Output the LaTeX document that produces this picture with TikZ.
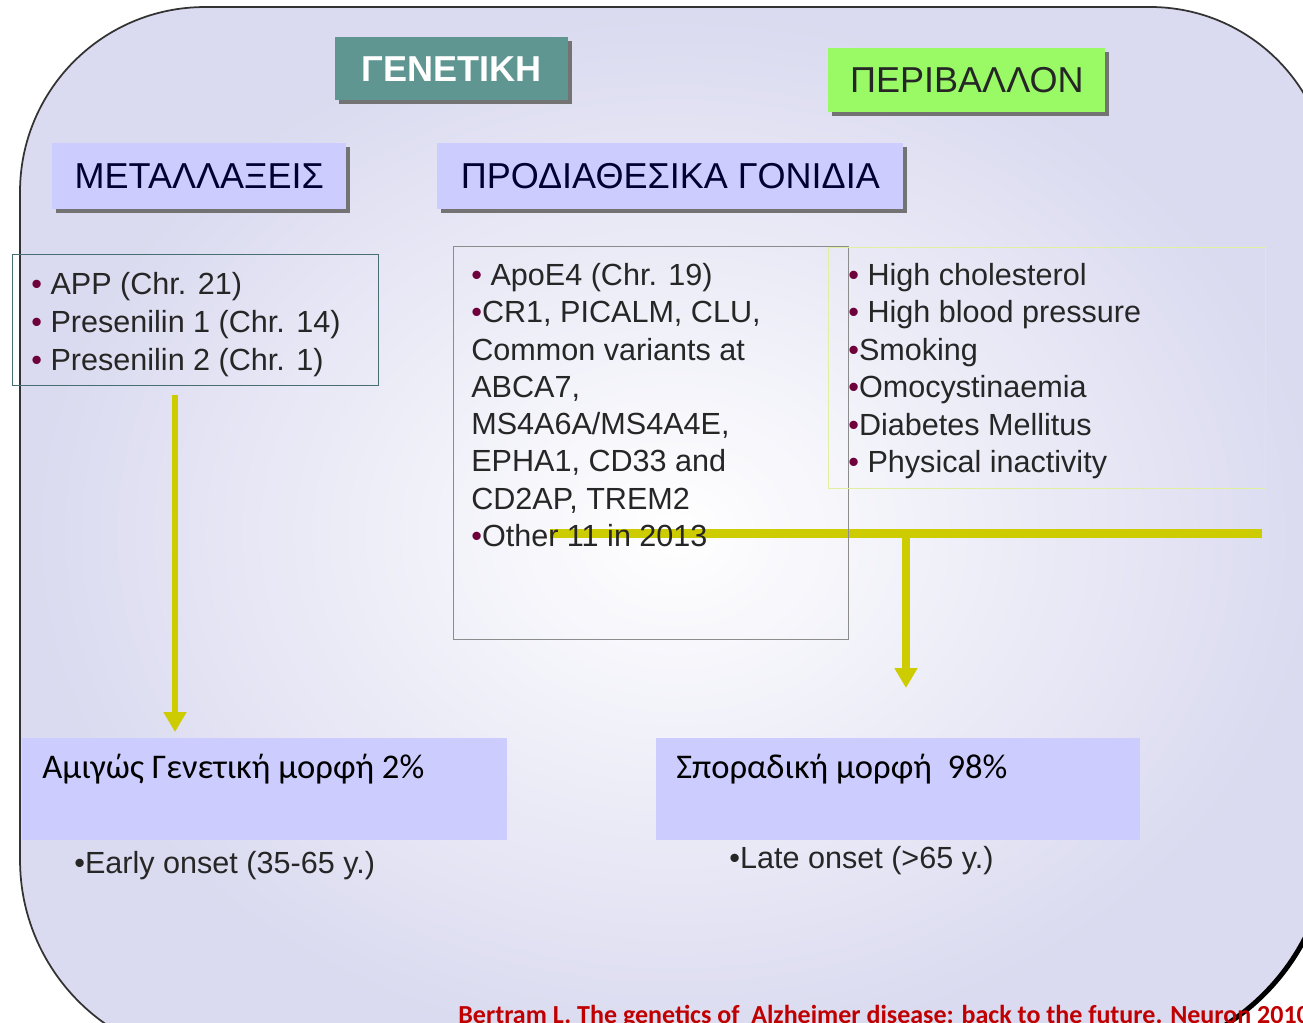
\documentclass[tikz,border=0pt]{standalone}
\usepackage{fontspec}
\setmainfont{Liberation Sans}
\newfontfamily\calibfont{Carlito}
\usetikzlibrary{arrows.meta, calc, shadows}

\definecolor{lavbox}{RGB}{204,204,255}
\definecolor{bgedge}{RGB}{218,218,240}
\definecolor{genteal}{RGB}{95,150,145}
\definecolor{envgreen}{RGB}{153,250,102}
\definecolor{ylw}{RGB}{204,204,0}
\definecolor{bulcol}{RGB}{110,0,60}
\definecolor{txtgray}{RGB}{38,38,38}
\definecolor{citered}{RGB}{192,0,0}
\definecolor{mutframe}{RGB}{70,110,115}
\definecolor{envframe}{RGB}{225,240,160}
\newcommand{\bul}{{\color{bulcol}•}}

\begin{document}
\begin{tikzpicture}[x=0.02cm, y=-0.02cm,
    titlebox/.style={anchor=north west, inner sep=0pt, font=\fontsize{20.5}{24}\selectfont,
      drop shadow={shadow xshift=0.08cm, shadow yshift=-0.08cm, fill=black!55, opacity=1}},
    listframe/.style={draw, anchor=north west, inner sep=0pt, line width=0.025cm},
    listline/.style={anchor=base west, inner sep=0pt, text=txtgray, font=\fontsize{17.4}{21}\selectfont},
    formbox/.style={anchor=north west, fill=lavbox, inner sep=0pt, minimum width=9.7cm, minimum height=2.04cm},
    formtxt/.style={anchor=base west, inner sep=0pt, font=\calibfont\fontsize{19.7}{23}\selectfont},
    yarrow/.style={draw=ylw, line width=0.12cm, -{Triangle[width=0.44cm, length=0.4cm]}}]

    % Fix the slide size
    \path[use as bounding box] (0,0) rectangle (1303,1023);
    \clip (0,0) rectangle (1303,1023);

    % Draw the rounded background
    \shadedraw[inner color=white, outer color=bgedge, draw=black!80, line width=0.035cm]
      (20,192) arc[start angle=180, end angle=90, radius=3.7cm] -- (1150,7)
      arc[start angle=90, end angle=0, radius=3.6cm] -- (1330,835)
      arc[start angle=0, end angle=-90, radius=4.5cm] -- (220,1060)
      arc[start angle=-90, end angle=-180, radius=4cm] -- cycle;
    \draw[line width=0.1cm] (1330,835) arc[start angle=0, end angle=-90, radius=4.5cm];

    % The two forms
    \node[formbox] (purebox) at (22,738) {};
    \node[formbox, minimum width=9.68cm] (sporbox) at (656,738) {};

    % Yellow connectors
    \coordinate (mutdrop) at (175,395);
    \coordinate (barstart) at (550,534);
    \coordinate (barend) at (1262,534);
    \coordinate (envdrop) at (906,534);
    \draw[yarrow, shorten >=0.12cm] (mutdrop) -- (mutdrop |- purebox.north);
    \draw[draw=ylw, line width=0.18cm] (barstart) -- (barend);
    \draw[yarrow, line width=0.15cm, shorten >=1cm] (envdrop) -- (envdrop |- sporbox.north);

    % Frames of the lists
    \node[listframe, draw=mutframe, minimum width=7.32cm, minimum height=2.62cm] (mutlist) at (12,254) {};
    \node[listframe, draw=black!45, minimum width=7.9cm, minimum height=7.86cm] (genelist) at (453,246) {};
    \node[listframe, draw=envframe, minimum width=8.74cm, minimum height=4.82cm] (envlist) at (828,247) {};

    % Headings
    \node[titlebox, fill=genteal, text=white, minimum width=4.66cm, minimum height=1.26cm] (genetics) at (335,37) {\textbf{ΓΕΝΕΤΙΚΗ}};
    \node[titlebox, fill=envgreen, text=black!85, minimum width=5.54cm, minimum height=1.28cm] (environment) at (828,48) {ΠΕΡΙΒΑΛΛΟΝ};
    \node[titlebox, fill=lavbox, text=black!80!blue, minimum width=5.88cm, minimum height=1.32cm] (mutations) at (52,143) {ΜΕΤΑΛΛΑΞΕΙΣ};
    \node[titlebox, fill=lavbox, text=black!80!blue, minimum width=9.32cm, minimum height=1.32cm] (predisposing) at (437,143) {ΠΡΟΔΙΑΘΕΣΙΚΑ ΓΟΝΙΔΙΑ};

    % List texts
    \foreach \line [count=\i from 0] in {{\bul\ APP (Chr. 21)}, {\bul\ Presenilin 1 (Chr. 14)}, {\bul\ Presenilin 2 (Chr. 1)}}
      \node[listline] (mut\i) at (31, 295+38*\i) {\line};
    \foreach \line [count=\i from 0] in {{\bul\ ApoE4 (Chr. 19)}, {\bul CR1, PICALM, CLU,}, {Common variants at}, {ABCA7,},
        {MS4A6A/MS4A4E,}, {EPHA1, CD33 and}, {CD2AP, TREM2}, {\bul Other 11 in 2013}}
      \node[listline] (gene\i) at (471, 285.5+37.3*\i) {\line};
    \foreach \line [count=\i from 0] in {{\bul\ High cholesterol}, {\bul\ High blood pressure}, {\bul Smoking},
        {\bul Omocystinaemia}, {\bul Diabetes Mellitus}, {\bul\ Physical inactivity}}
      \node[listline] (env\i) at (848, 285.5+37.5*\i) {\line};

    % Form labels and onset
    \node[formtxt] (puretxt) at (42,779) {Αμιγώς Γενετική μορφή 2\%};
    \node[formtxt] (sportxt) at (676,779) {Σποραδική μορφή\ \ 98\%};
    \node[listline] (early) at (74,874) {•Early onset (35-65 y.)};
    \node[listline] (late) at (729,869) {•Late onset (>65 y.)};

    % Reference
    \node[anchor=base west, inner sep=0pt, text=citered, font=\calibfont\bfseries\fontsize{14.8}{17}\selectfont] (cite)
      at (458,1024) {Bertram L. The genetics of\ \ Alzheimer disease: back to the future. Neuron 2010};
\end{tikzpicture}
\end{document}
